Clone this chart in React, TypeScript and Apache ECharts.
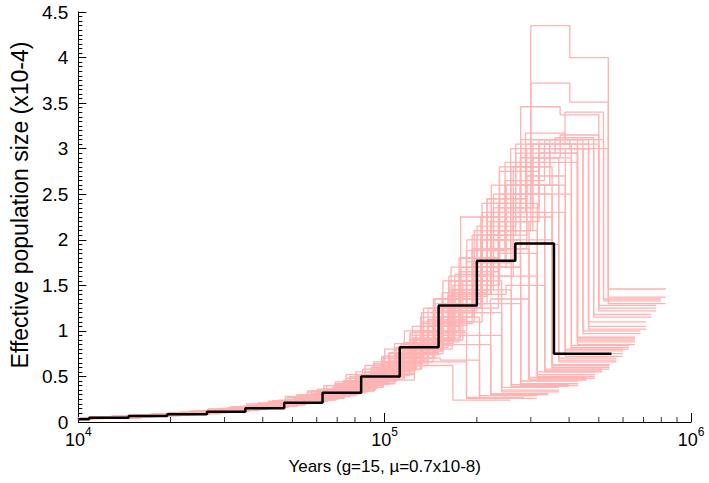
import React, { useEffect, useRef } from 'react';
import * as echarts from 'echarts';

// Main PSMC estimate (years, Ne x10^4)
const mainYears = [10000, 10850, 14600, 19500, 26300, 35100, 47000, 62700, 83800, 112000, 150000, 200000, 267000, 357000, 550000];
const mainNe = [0.03, 0.047, 0.066, 0.085, 0.113, 0.15, 0.21, 0.32, 0.5, 0.82, 1.28, 1.77, 1.96, 0.75];

// Bootstrap time grids (years)
const g045 = [4000, 4950, 6710, 8960, 12100, 16200, 21600, 28900, 38700, 51800, 69300, 92700, 125000, 167000, 257000];
const g050 = [4000, 5500, 7450, 9950, 13400, 17950, 24050, 32150, 43050, 57500, 77000, 103000, 138500, 185000, 285000];
const g055 = [4000, 6050, 8200, 10900, 14700, 19700, 26500, 35400, 47400, 63300, 84700, 113000, 152000, 204000, 314000];
const g060 = [4000, 6600, 8940, 11940, 16080, 21540, 28860, 38580, 51660, 69000, 92400, 123600, 166200, 222000, 342000];
const g065 = [4000, 7150, 9700, 12900, 17400, 23300, 31300, 41800, 56000, 74800, 100000, 134000, 180000, 241000, 371000];
const g070 = [4000, 7700, 10430, 13930, 18760, 25130, 33670, 45010, 60270, 80500, 107800, 144200, 193900, 259000, 399000];
const g075 = [4000, 8250, 11200, 14900, 20100, 26900, 36100, 48200, 64600, 86300, 116000, 155000, 208000, 278000, 428000];
const g080 = [4000, 8800, 11920, 15920, 21440, 28720, 38480, 51440, 68880, 92000, 123200, 164800, 221600, 296000, 456000];
const g085 = [4000, 9350, 12700, 16900, 22800, 30500, 40900, 54700, 73200, 97800, 131000, 175000, 235000, 315000, 485000];
const g090 = [4000, 9900, 13410, 17910, 24120, 32310, 43290, 57870, 77490, 103500, 138600, 185400, 249300, 333000, 513000];
const g095 = [4000, 10500, 14200, 18900, 25500, 34100, 45700, 61100, 81800, 109000, 146000, 196000, 263000, 352000, 542000];
const g100 = [4000, 11000, 14900, 19900, 26800, 35900, 48100, 64300, 86100, 115000, 154000, 206000, 277000, 370000, 570000];
const g105 = [4000, 11600, 15600, 20900, 28100, 37700, 50500, 67500, 90400, 121000, 162000, 216000, 291000, 389000, 599000];
const g110 = [4000, 12100, 16390, 21890, 29480, 39490, 52910, 70730, 94710, 126500, 169400, 226600, 304700, 407000, 627000];
const g115 = [4000, 12700, 17100, 22900, 30800, 41300, 55300, 73900, 99000, 132000, 177000, 237000, 319000, 426000, 656000];
const g120 = [4000, 13200, 17880, 23880, 32160, 43080, 57720, 77160, 103300, 138000, 184800, 247200, 332400, 444000, 684000];
const g125 = [4000, 13800, 18600, 24900, 33500, 44900, 60100, 80400, 108000, 144000, 193000, 258000, 346000, 463000, 713000];
const g130 = [4000, 14300, 19370, 25870, 34840, 46670, 62530, 83590, 111900, 149500, 200200, 267800, 360100, 481000, 741000];
const g135 = [4000, 14900, 20100, 26900, 36200, 48500, 64900, 86800, 116000, 155000, 208000, 278000, 374000, 500000, 770000];
const g140 = [4000, 15400, 20860, 27860, 37520, 50260, 67340, 90020, 120500, 161000, 215600, 288400, 387800, 518000, 798000];
const g145 = [4000, 16000, 21600, 28900, 38900, 52100, 69700, 93200, 125000, 167000, 223000, 300000, 402000, 537000, 827000];

// Bootstrap Ne values (x10^4)
const b01 = [0.015, 0.02, 0.026, 0.036, 0.05, 0.068, 0.09, 0.125, 0.17, 0.24, 0.34, 0.46, 0.62, 0.24];
const b02 = [0.018, 0.025, 0.034, 0.05, 0.07, 0.095, 0.13, 0.18, 0.25, 0.36, 0.5, 0.7, 0.68, 0.26];
const b03 = [0.02, 0.027, 0.037, 0.055, 0.078, 0.105, 0.145, 0.2, 0.28, 0.4, 0.58, 0.85, 1.15, 0.29];
const b04 = [0.022, 0.03, 0.042, 0.06, 0.082, 0.11, 0.15, 0.21, 0.3, 0.45, 0.66, 0.95, 1.2, 0.35];
const b05 = [0.024, 0.033, 0.046, 0.066, 0.09, 0.12, 0.165, 0.23, 0.34, 0.52, 0.8, 1.25, 1.55, 0.38];
const b06 = [0.023, 0.031, 0.044, 0.063, 0.086, 0.115, 0.16, 0.22, 0.32, 0.48, 0.72, 0.9, 0.95, 0.33];
const b07 = [0.026, 0.036, 0.05, 0.068, 0.094, 0.125, 0.17, 0.245, 0.36, 0.55, 0.85, 1.3, 1.7, 0.42];
const b08 = [0.027, 0.038, 0.052, 0.072, 0.1, 0.135, 0.185, 0.27, 0.4, 0.62, 1.0, 1.55, 2.0, 0.45];
const b09 = [0.025, 0.035, 0.048, 0.066, 0.09, 0.12, 0.165, 0.235, 0.34, 0.5, 0.78, 1.1, 1.3, 0.4];
const b10 = [0.03, 0.042, 0.057, 0.078, 0.106, 0.142, 0.195, 0.28, 0.42, 0.65, 1.0, 1.5, 2.1, 0.5];
const b11 = [0.032, 0.045, 0.06, 0.082, 0.112, 0.15, 0.21, 0.3, 0.45, 0.72, 1.15, 1.8, 2.4, 0.55];
const b12 = [0.029, 0.04, 0.055, 0.075, 0.1, 0.135, 0.185, 0.26, 0.38, 0.58, 0.88, 1.25, 1.6, 0.48];
const b13 = [0.031, 0.043, 0.058, 0.08, 0.108, 0.145, 0.2, 0.29, 0.44, 0.7, 1.1, 1.65, 1.85, 0.52];
const b14 = [0.034, 0.048, 0.064, 0.088, 0.12, 0.16, 0.22, 0.32, 0.48, 0.75, 1.2, 1.9, 2.5, 0.6];
const b15 = [0.036, 0.05, 0.068, 0.092, 0.125, 0.17, 0.235, 0.34, 0.52, 0.82, 1.35, 2.1, 2.8, 0.63];
const b16 = [0.033, 0.046, 0.062, 0.085, 0.115, 0.155, 0.21, 0.3, 0.45, 0.7, 1.1, 1.6, 2.0, 0.58];
const b17 = [0.035, 0.049, 0.066, 0.09, 0.122, 0.165, 0.225, 0.33, 0.5, 0.8, 1.3, 1.75, 2.25, 0.62];
const b18 = [0.038, 0.053, 0.072, 0.098, 0.132, 0.18, 0.25, 0.36, 0.56, 0.9, 1.45, 2.2, 2.7, 0.75];
const b19 = [0.04, 0.055, 0.075, 0.1, 0.138, 0.19, 0.26, 0.38, 0.6, 0.98, 1.6, 2.45, 3.0, 0.78];
const b20 = [0.037, 0.051, 0.07, 0.095, 0.128, 0.175, 0.24, 0.35, 0.53, 0.85, 1.3, 1.9, 2.3, 0.72];
const b21 = [0.039, 0.054, 0.073, 0.099, 0.135, 0.185, 0.255, 0.37, 0.58, 0.95, 1.55, 2.05, 2.6, 0.8];
const b22 = [0.04, 0.058, 0.078, 0.105, 0.142, 0.195, 0.27, 0.4, 0.62, 1.0, 1.65, 2.5, 3.05, 0.88];
const b23 = [0.041, 0.06, 0.082, 0.11, 0.15, 0.205, 0.285, 0.42, 0.66, 1.08, 1.8, 2.75, 3.1, 0.92];
const b24 = [0.039, 0.056, 0.076, 0.102, 0.138, 0.19, 0.26, 0.38, 0.58, 0.92, 1.5, 2.2, 2.85, 0.85];
const b25 = [0.04, 0.059, 0.08, 0.108, 0.146, 0.2, 0.28, 0.41, 0.64, 1.05, 1.7, 2.35, 2.95, 0.9];
const b26 = [0.04, 0.063, 0.086, 0.115, 0.155, 0.21, 0.3, 0.44, 0.7, 1.15, 1.9, 2.8, 3.05, 1.05];
const b27 = [0.041, 0.065, 0.088, 0.12, 0.16, 0.22, 0.31, 0.46, 0.74, 1.22, 2.05, 3.0, 3.1, 1.1];
const b28 = [0.04, 0.061, 0.084, 0.112, 0.15, 0.205, 0.29, 0.42, 0.66, 1.08, 1.75, 2.6, 3.0, 1.02];
const b29 = [0.042, 0.068, 0.092, 0.125, 0.168, 0.23, 0.33, 0.49, 0.78, 1.3, 2.4, 3.46, 3.37, 1.25];
const b30 = [0.043, 0.07, 0.095, 0.13, 0.175, 0.24, 0.34, 0.5, 0.8, 1.35, 2.3, 3.1, 3.05, 1.28];
const b31 = [0.042, 0.066, 0.09, 0.122, 0.164, 0.225, 0.32, 0.47, 0.75, 1.25, 2.1, 2.9, 3.15, 1.22];
const b32 = [0.045, 0.075, 0.1, 0.135, 0.18, 0.25, 0.36, 0.53, 0.86, 1.45, 2.1, 4.35, 4.0, 1.46];
const b33 = [0.046, 0.078, 0.105, 0.14, 0.19, 0.26, 0.37, 0.55, 0.9, 1.5, 2.6, 3.72, 3.51, 1.37];
const b34 = [0.044, 0.073, 0.098, 0.132, 0.176, 0.245, 0.35, 0.52, 0.84, 1.4, 2.4, 3.1, 3.0, 1.3];
const b35 = [0.04, 0.062, 0.085, 0.115, 0.155, 0.215, 0.3, 0.45, 0.72, 1.2, 2.25, 2.8, 2.95, 0.93];
const c01 = [0.017, 0.023, 0.03, 0.043, 0.06, 0.082, 0.11, 0.155, 0.215, 0.31, 0.44, 0.62, 0.66, 0.26];
const c02 = [0.018, 0.024, 0.032, 0.046, 0.064, 0.088, 0.12, 0.165, 0.235, 0.34, 0.5, 0.75, 0.98, 0.27];
const c03 = [0.02, 0.028, 0.039, 0.056, 0.078, 0.105, 0.145, 0.2, 0.29, 0.42, 0.62, 0.92, 1.3, 0.31];
const c04 = [0.021, 0.029, 0.04, 0.058, 0.08, 0.108, 0.15, 0.21, 0.3, 0.44, 0.64, 0.8, 0.85, 0.3];
const c05 = [0.024, 0.033, 0.046, 0.064, 0.088, 0.118, 0.16, 0.225, 0.33, 0.5, 0.76, 1.15, 1.45, 0.39];
const c06 = [0.025, 0.034, 0.048, 0.067, 0.092, 0.124, 0.17, 0.24, 0.36, 0.55, 0.86, 1.35, 1.75, 0.41];
const c07 = [0.027, 0.038, 0.052, 0.072, 0.098, 0.132, 0.18, 0.26, 0.39, 0.6, 0.92, 1.4, 1.9, 0.46];
const c08 = [0.028, 0.039, 0.054, 0.075, 0.102, 0.138, 0.19, 0.27, 0.41, 0.64, 1.0, 1.2, 1.35, 0.47];
const c09 = [0.029, 0.04, 0.055, 0.076, 0.104, 0.14, 0.192, 0.275, 0.42, 0.66, 1.05, 1.7, 2.2, 0.49];
const c10 = [0.031, 0.044, 0.06, 0.082, 0.112, 0.15, 0.205, 0.3, 0.45, 0.7, 1.12, 1.7, 2.3, 0.56];
const c11 = [0.033, 0.046, 0.062, 0.086, 0.117, 0.158, 0.218, 0.315, 0.48, 0.76, 1.25, 2.0, 2.6, 0.58];
const c12 = [0.032, 0.045, 0.061, 0.083, 0.113, 0.152, 0.21, 0.3, 0.44, 0.66, 1.0, 1.4, 1.5, 0.55];
const c13 = [0.035, 0.049, 0.067, 0.091, 0.124, 0.168, 0.23, 0.335, 0.51, 0.8, 1.3, 2.0, 2.6, 0.66];
const c14 = [0.037, 0.051, 0.07, 0.095, 0.13, 0.176, 0.242, 0.35, 0.54, 0.87, 1.42, 2.25, 2.9, 0.7];
const c15 = [0.036, 0.05, 0.068, 0.093, 0.126, 0.17, 0.234, 0.34, 0.52, 0.82, 1.25, 1.7, 1.95, 0.68];
const c16 = [0.039, 0.055, 0.075, 0.102, 0.138, 0.188, 0.26, 0.38, 0.59, 0.95, 1.55, 2.35, 2.9, 0.82];
const c17 = [0.04, 0.056, 0.077, 0.105, 0.142, 0.193, 0.268, 0.39, 0.6, 0.98, 1.62, 2.5, 3.05, 0.84];
const c18 = [0.039, 0.054, 0.074, 0.1, 0.136, 0.185, 0.255, 0.37, 0.57, 0.9, 1.45, 2.1, 2.5, 0.8];
const c19 = [0.04, 0.06, 0.082, 0.11, 0.148, 0.202, 0.28, 0.41, 0.65, 1.06, 1.76, 2.65, 3.0, 0.97];
const c20 = [0.041, 0.062, 0.084, 0.113, 0.152, 0.208, 0.29, 0.43, 0.68, 1.12, 1.88, 2.85, 3.1, 1.0];
const c21 = [0.041, 0.065, 0.089, 0.12, 0.162, 0.222, 0.31, 0.46, 0.74, 1.22, 2.05, 2.95, 3.12, 1.15];
const c22 = [0.042, 0.066, 0.09, 0.122, 0.165, 0.225, 0.315, 0.47, 0.76, 1.26, 2.15, 3.05, 3.0, 1.18];
const c23 = [0.044, 0.071, 0.097, 0.13, 0.175, 0.24, 0.34, 0.51, 0.82, 1.38, 2.3, 3.17, 3.1, 1.33];
const c24 = [0.045, 0.073, 0.1, 0.134, 0.18, 0.248, 0.35, 0.52, 0.85, 1.42, 2.45, 3.05, 3.4, 1.35];

const bootLines: [number[], number[]][] = [
  [g045, b01], [g055, b02], [g055, b03], [g065, b04], [g065, b05], [g065, b06],
  [g075, b07], [g075, b08], [g075, b09], [g085, b10], [g085, b11], [g085, b12], [g085, b13],
  [g095, b14], [g095, b15], [g095, b16], [g095, b17], [g105, b18], [g105, b19], [g105, b20], [g105, b21],
  [g115, b22], [g115, b23], [g115, b24], [g115, b25], [g125, b26], [g125, b27], [g125, b28],
  [g135, b29], [g135, b30], [g135, b31], [g145, b32], [g145, b33], [g145, b34], [g115, b35],
  [g050, c01], [g050, c02], [g060, c03], [g060, c04], [g070, c05], [g070, c06],
  [g080, c07], [g080, c08], [g080, c09], [g090, c10], [g090, c11], [g090, c12],
  [g100, c13], [g100, c14], [g100, c15], [g110, c16], [g110, c17], [g110, c18],
  [g120, c19], [g120, c20], [g130, c21], [g130, c22], [g140, c23], [g140, c24],
];

// Log-axis minor tick positions
const xMinorTicks = [20000, 30000, 40000, 50000, 60000, 70000, 80000, 90000,
  200000, 300000, 400000, 500000, 600000, 700000, 800000, 900000];

const X_NAME = 'Years (g=15, µ=0.7x10-8)';
const Y_NAME = 'Effective population size (x10-4)';
const PINK = '#ffb3b3';
const FONT = 'Liberation Sans, Arial, sans-serif';

function stepPoints(years: number[], ne: number[]) {
  const pts: number[][] = [];
  for (let i = 0; i < ne.length; i++) {
    pts.push([years[i], ne[i]]);
    pts.push([years[i + 1], ne[i]]);
  }
  return pts;
}

export default function App() {
  const ref = useRef<HTMLDivElement>(null);
  useEffect(() => {
    document.body.style.margin = '0';
    const chart = echarts.init(ref.current!, null, { renderer: 'svg' });
    const series: any[] = bootLines.map(([years, ne]) => ({
      type: 'line',
      data: stepPoints(years, ne),
      symbol: 'none',
      silent: true,
      clip: true,
      lineStyle: { color: PINK, width: 1.3 },
      z: 2,
    }));
    series.push({
      type: 'line',
      data: stepPoints(mainYears, mainNe),
      symbol: 'none',
      silent: true,
      clip: true,
      lineStyle: { color: '#000', width: 2.5 },
      z: 5,
    });
    series.push({
      type: 'scatter',
      data: xMinorTicks.map((v) => [v, 0]),
      symbol: 'rect',
      symbolSize: [1, 5],
      symbolOffset: [0, -2.5],
      itemStyle: { color: '#000' },
      silent: true,
      z: 6,
    });
    chart.setOption({
      animation: false,
      backgroundColor: '#fff',
      grid: { left: 72, right: 18, top: 12, bottom: 61 },
      xAxis: {
        type: 'log',
        logBase: 10,
        min: 10000,
        max: 1000000,
        name: X_NAME,
        nameLocation: 'middle',
        nameGap: 36,
        nameTextStyle: { fontSize: 17, color: '#000', fontFamily: FONT },
        axisLine: { lineStyle: { color: '#000', width: 1 } },
        axisTick: { inside: true, length: 9, lineStyle: { color: '#000' } },
        splitLine: { show: false },
        axisLabel: {
          margin: 4,
          formatter: (v: number) => `{b|10}{s|${Math.round(Math.log10(v))}}`,
          rich: {
            b: { fontSize: 18, color: '#000', fontFamily: FONT, verticalAlign: 'bottom' },
            s: { fontSize: 12, color: '#000', fontFamily: FONT, verticalAlign: 'top', padding: [0, 0, 11, 0] },
          },
        },
      },
      yAxis: {
        type: 'value',
        min: 0,
        max: 4.5,
        interval: 0.5,
        name: Y_NAME,
        nameLocation: 'middle',
        nameGap: 47,
        nameTextStyle: { fontSize: 23, color: '#000', fontFamily: FONT, padding: [0, 0, 0, 24] },
        axisLine: { show: true, lineStyle: { color: '#000', width: 1 } },
        axisTick: { show: true, inside: true, length: 8, lineStyle: { color: '#000' } },
        minorTick: { show: true, splitNumber: 10, length: 4, lineStyle: { color: '#000' } },
        splitLine: { show: false },
        axisLabel: { fontSize: 19, color: '#000', fontFamily: FONT, margin: 10 },
      },
      series,
    });
    return () => chart.dispose();
  }, []);
  return <div ref={ref} style={{ width: 709, height: 483 }} />;
}
